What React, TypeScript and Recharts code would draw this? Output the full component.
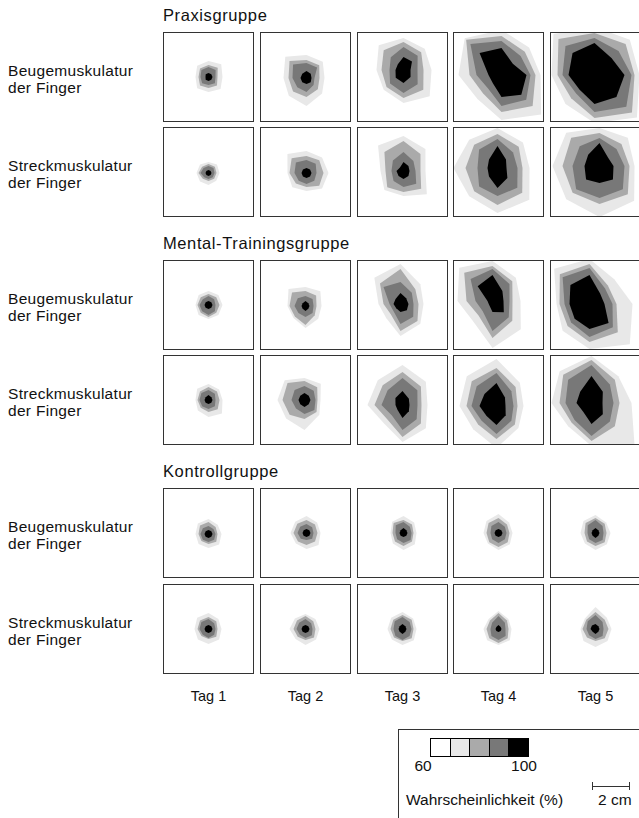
import React from 'react';
import { RadarChart, Radar, PolarAngleAxis, PolarRadiusAxis } from 'recharts';

// Radien der Konturen (px) in acht Richtungen, im Uhrzeigersinn ab oben
const richtungen = ['N', 'NO', 'O', 'SO', 'S', 'SW', 'W', 'NW'];
const tage = ['Tag 1', 'Tag 2', 'Tag 3', 'Tag 4', 'Tag 5'];
const gruppen = ['Praxisgruppe', 'Mental-Trainingsgruppe', 'Kontrollgruppe'];
const muskeln = [['Beugemuskulatur', 'der Finger'], ['Streckmuskulatur', 'der Finger']];
const stufenFarben = ['#ffffff', '#e8e8e8', '#aaaaaa', '#787878', '#000000'];
const konturen = ['p70', 'p80', 'p90', 'p100'];

type Karte = { dx: number; dy: number; r: number[][] };

// r = [ >70 %, >80 %, >90 %, 100 % ]
const praxisBeuge: Karte[] = [
  { dx: 0, dy: 0, r: [[16, 18, 14, 17, 15, 16, 13, 16], [12, 13, 9, 12, 11, 12, 10, 12], [10, 10, 7, 9, 8, 9, 8, 10], [4, 4, 4, 4, 4, 4, 3, 4]] },
  { dx: 1, dy: 1, r: [[23, 23, 18, 22, 28, 25, 23, 30], [18, 18, 13, 16, 19, 19, 18, 24], [15, 15, 8, 10, 14, 13, 14, 19], [7, 6, 5, 6, 6, 6, 6, 6]] },
  { dx: 1, dy: -7, r: [[32, 30, 28, 37, 33, 28, 27, 35], [28, 25, 20, 28, 28, 24, 22, 28], [23, 20, 14, 20, 23, 19, 14, 18], [13, 12, 7, 10, 13, 11, 8, 8]] },
  { dx: 3, dy: -2, r: [[45, 39, 39, 56, 45, 34, 43, 52], [39, 33, 34, 44, 37, 26, 32, 50], [34, 27, 29, 35, 31, 19, 25, 44], [27, 16, 25, 28, 22, 12, 13, 31]] },
  { dx: -1, dy: -2, r: [[48, 50, 45, 60, 48, 41, 43, 58], [42, 44, 40, 53, 43, 33, 37, 51], [37, 34, 37, 45, 37, 26, 32, 41], [32, 24, 30, 31, 29, 21, 26, 31]] },
];
const praxisStreck: Karte[] = [
  { dx: 0, dy: 1, r: [[11, 12, 11, 11, 12, 12, 12, 12], [9, 9, 8, 8, 8, 8, 10, 9], [7, 7, 6, 6, 6, 6, 8, 7], [3, 3, 3, 3, 3, 3, 3, 3]] },
  { dx: 1, dy: 1, r: [[22, 22, 22, 22, 18, 20, 19, 27], [17, 18, 17, 18, 14, 15, 17, 21], [13, 13, 10, 11, 11, 11, 12, 15], [5, 5, 5, 5, 5, 5, 5, 5]] },
  { dx: 1, dy: -1, r: [[35, 31, 22, 33, 25, 27, 23, 36], [30, 24, 17, 25, 21, 23, 18, 27], [19, 14, 12, 18, 16, 14, 12, 15], [9, 7, 6, 7, 8, 7, 7, 5]] },
  { dx: -1, dy: -4, r: [[40, 36, 32, 45, 45, 40, 44, 40], [34, 30, 25, 35, 37, 33, 32, 33], [29, 22, 20, 28, 28, 26, 20, 26], [22, 12, 9, 14, 20, 12, 10, 12]] },
  { dx: 4, dy: -6, r: [[38, 40, 35, 49, 51, 47, 47, 47], [33, 31, 30, 40, 38, 38, 37, 40], [28, 24, 25, 33, 32, 33, 27, 28], [23, 12, 14, 19, 17, 19, 15, 16]] },
];
const mentalBeuge: Karte[] = [
  { dx: 0, dy: 0, r: [[14, 14, 14, 14, 14, 14, 13, 14], [11, 11, 11, 11, 12, 11, 11, 11], [9, 8, 7, 9, 10, 9, 9, 8], [4, 4, 4, 4, 4, 4, 4, 4]] },
  { dx: 0, dy: 1, r: [[19, 21, 16, 18, 22, 17, 18, 24], [15, 15, 11, 13, 19, 15, 16, 19], [10, 10, 8, 10, 11, 10, 11, 11], [5, 4, 4, 4, 5, 4, 4, 4]] },
  { dx: -2, dy: -1, r: [[40, 28, 23, 28, 32, 20, 22, 37], [35, 21, 18, 24, 27, 14, 17, 29], [22, 16, 13, 18, 20, 10, 11, 24], [11, 8, 8, 9, 8, 6, 7, 7]] },
  { dx: -6, dy: -4, r: [[40, 33, 28, 40, 47, 28, 35, 47], [35, 28, 20, 28, 37, 20, 26, 40], [32, 24, 17, 23, 30, 14, 17, 31], [26, 14, 11, 16, 11, 5, 5, 21]] },
  { dx: -6, dy: -1, r: [[45, 35, 43, 57, 45, 38, 33, 50], [40, 26, 27, 40, 38, 31, 30, 42], [36, 22, 23, 33, 33, 26, 25, 38], [29, 15, 15, 27, 25, 21, 20, 27]] },
];
const mentalStreck: Karte[] = [
  { dx: 0, dy: 0, r: [[16, 15, 14, 19, 17, 15, 13, 16], [13, 12, 11, 13, 12, 11, 11, 12], [10, 9, 7, 9, 9, 9, 9, 10], [5, 4, 4, 4, 4, 4, 4, 4]] },
  { dx: -1, dy: 0, r: [[22, 23, 16, 21, 30, 26, 27, 28], [19, 18, 13, 17, 19, 21, 22, 24], [14, 13, 11, 14, 14, 12, 13, 14], [7, 6, 6, 6, 7, 6, 6, 6]] },
  { dx: 0, dy: 5, r: [[40, 33, 25, 33, 37, 26, 35, 35], [33, 26, 19, 26, 32, 21, 28, 28], [27, 21, 15, 20, 25, 15, 21, 21], [14, 9, 7, 9, 13, 7, 7, 10]] },
  { dx: -2, dy: 6, r: [[47, 33, 27, 31, 42, 33, 37, 42], [38, 27, 21, 26, 33, 26, 30, 35], [33, 21, 17, 21, 28, 21, 25, 28], [23, 12, 9, 13, 19, 14, 17, 17]] },
  { dx: -4, dy: 3, r: [[47, 38, 40, 61, 43, 33, 40, 45], [43, 33, 28, 33, 38, 28, 32, 40], [38, 26, 22, 26, 33, 24, 26, 33], [27, 16, 11, 16, 21, 12, 15, 16]] },
];
const kontrollBeuge: Karte[] = [
  { dx: 0, dy: 1, r: [[15, 13, 13, 15, 14, 14, 13, 15], [12, 10, 9, 11, 10, 10, 10, 12], [8, 7, 7, 8, 8, 8, 8, 8], [4, 4, 4, 4, 4, 4, 4, 4]] },
  { dx: 1, dy: 0, r: [[17, 15, 14, 17, 16, 15, 16, 16], [13, 12, 11, 12, 12, 12, 13, 13], [9, 8, 7, 8, 7, 8, 9, 9], [4, 4, 4, 4, 4, 4, 4, 4]] },
  { dx: 1, dy: 0, r: [[17, 15, 13, 16, 17, 15, 13, 16], [13, 12, 10, 12, 13, 12, 11, 14], [11, 9, 8, 10, 10, 9, 8, 11], [5, 4, 4, 4, 4, 4, 4, 4]] },
  { dx: 0, dy: 0, r: [[19, 15, 14, 16, 17, 15, 15, 17], [15, 12, 11, 13, 14, 13, 12, 14], [11, 9, 8, 9, 10, 9, 8, 10], [4, 4, 4, 4, 4, 4, 4, 4]] },
  { dx: 0, dy: 0, r: [[18, 15, 15, 16, 17, 15, 15, 17], [15, 13, 11, 13, 13, 12, 11, 14], [13, 10, 8, 10, 10, 9, 8, 11], [5, 4, 4, 4, 5, 4, 4, 4]] },
];
const kontrollStreck: Karte[] = [
  { dx: 0, dy: 0, r: [[16, 14, 13, 15, 15, 15, 14, 16], [12, 11, 9, 11, 10, 10, 11, 12], [10, 8, 7, 8, 9, 8, 9, 10], [4, 4, 4, 4, 4, 4, 4, 4]] },
  { dx: 0, dy: 0, r: [[15, 14, 14, 15, 16, 14, 16, 15], [13, 11, 10, 12, 11, 11, 12, 12], [10, 8, 7, 9, 9, 8, 9, 9], [4, 4, 4, 4, 4, 4, 4, 4]] },
  { dx: 0, dy: 0, r: [[17, 15, 14, 16, 16, 15, 15, 16], [14, 13, 11, 13, 12, 12, 12, 13], [12, 10, 9, 10, 11, 10, 9, 11], [5, 4, 4, 4, 5, 4, 4, 4]] },
  { dx: 0, dy: 0, r: [[18, 14, 13, 16, 16, 16, 15, 14], [16, 12, 10, 13, 14, 13, 12, 12], [13, 9, 7, 10, 11, 10, 8, 9], [4, 3, 3, 3, 3, 3, 3, 3]] },
  { dx: 0, dy: 0, r: [[22, 16, 16, 17, 18, 17, 15, 15], [17, 13, 13, 13, 12, 12, 13, 13], [14, 10, 8, 10, 10, 9, 9, 11], [5, 4, 4, 4, 5, 4, 5, 5]] },
];

const zeilen = [praxisBeuge, praxisStreck, mentalBeuge, mentalStreck, kontrollBeuge, kontrollStreck];

const FONT = '"Liberation Sans", Arial, Helvetica, sans-serif';
const RMAX = 80;
const spalteX = [163, 260, 357, 453, 550];
const zeileY = [32, 127, 260, 355, 488, 584];
const BOX_W = 91;
const BOX_H = 90;

function Text({ x, base, size, center, spacing, children }: any) {
  const top = base - size * 0.9465;
  const style: React.CSSProperties = {
    position: 'absolute', top, fontSize: size, lineHeight: `${size * 1.2}px`,
    fontFamily: FONT, color: '#111', whiteSpace: 'nowrap', letterSpacing: spacing || 0,
  };
  if (center) {
    style.left = x - 60;
    style.width = 120;
    style.textAlign = 'center';
  } else {
    style.left = x;
  }
  return <div style={style}>{children}</div>;
}

function Feld({ karte, x, y }: { karte: Karte; x: number; y: number }) {
  const data = richtungen.map((d, i) => ({
    d,
    p70: karte.r[0][i],
    p80: karte.r[1][i],
    p90: karte.r[2][i],
    p100: karte.r[3][i],
  }));
  return (
    <div style={{
      position: 'absolute', left: x, top: y, width: BOX_W, height: BOX_H, boxSizing: 'border-box',
      border: '1px solid #333', overflow: 'hidden', background: '#fff',
    }}>
      <RadarChart
        width={BOX_W - 2}
        height={BOX_H - 2}
        data={data}
        cx={(BOX_W - 2) / 2 + karte.dx}
        cy={(BOX_H - 2) / 2 + karte.dy}
        outerRadius={RMAX}
        margin={{ top: 0, right: 0, bottom: 0, left: 0 }}
      >
        <PolarAngleAxis dataKey="d" tick={false} tickLine={false} axisLine={false} />
        <PolarRadiusAxis type="number" domain={[0, RMAX]} tick={false} axisLine={false} />
        {konturen.map((k, j) => (
          <Radar
            key={k}
            dataKey={k}
            fill={stufenFarben[j + 1]}
            fillOpacity={1}
            stroke="none"
            dot={false}
            isAnimationActive={false}
          />
        ))}
      </RadarChart>
    </div>
  );
}

export default function App() {
  return (
    <div style={{ position: 'absolute', left: 0, top: 0, width: 639, height: 818, overflow: 'hidden', background: '#fff' }}>
      {gruppen.map((g, i) => (
        <Text key={g} x={163} base={zeileY[i * 2] - 10} size={16.5} spacing={0.6}>{g}</Text>
      ))}
      {zeilen.map((zeile, z) => (
        <React.Fragment key={z}>
          <Text x={8} base={zeileY[z] + 45} size={15.5} spacing={0.3}>{muskeln[z % 2][0]}</Text>
          <Text x={8} base={zeileY[z] + 62} size={15.5} spacing={0.3}>{muskeln[z % 2][1]}</Text>
          {zeile.map((karte, s) => (
            <Feld key={s} karte={karte} x={spalteX[s]} y={zeileY[z]} />
          ))}
        </React.Fragment>
      ))}
      {tage.map((t, s) => (
        <Text key={t} x={spalteX[s] + BOX_W / 2} base={702} size={14.5} center>{t}</Text>
      ))}

      {/* Legende */}
      <div style={{ position: 'absolute', left: 398, top: 729, width: 260, height: 100, border: '1px solid #333', boxSizing: 'border-box' }} />
      {stufenFarben.map((f, i) => (
        <div key={f} style={{
          position: 'absolute', left: 430 + i * 19.6, top: 738, width: 20.6, height: 19, boxSizing: 'border-box',
          border: '1px solid #000', background: f,
        }} />
      ))}
      <Text x={423} base={772} size={15.5} center>60</Text>
      <Text x={524} base={772} size={15.5} center>100</Text>
      <Text x={406} base={806} size={15.5}>Wahrscheinlichkeit (%)</Text>
      <div style={{ position: 'absolute', left: 592, top: 786, width: 38, height: 1, background: '#333' }} />
      <div style={{ position: 'absolute', left: 592, top: 782, width: 1, height: 8, background: '#333' }} />
      <div style={{ position: 'absolute', left: 629, top: 782, width: 1, height: 8, background: '#333' }} />
      <Text x={598} base={806} size={15.5}>2 cm</Text>
    </div>
  );
}
